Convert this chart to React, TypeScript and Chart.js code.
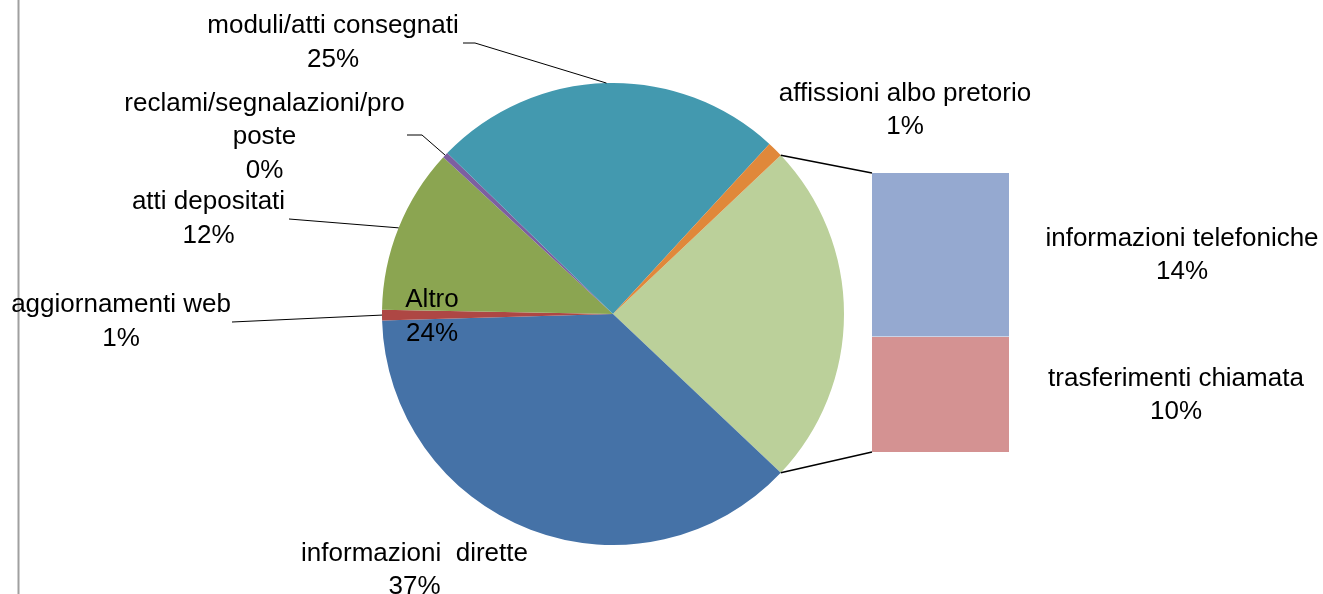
import React, { useEffect, useRef } from 'react';
import { Chart, registerables } from 'chart.js';

Chart.register(...registerables);

// ---- data ----
const MAIN_CATEGORIES = [
  'informazioni  dirette',
  'aggiornamenti web',
  'atti depositati',
  'reclami/segnalazioni/proposte',
  'moduli/atti consegnati',
  'affissioni albo pretorio',
];
const MAIN_VALUES = [37.45, 0.75, 11.55, 0.4, 24.55, 1.1];

const OTHER_LABEL = 'Altro';
const OTHER_CATEGORIES = ['informazioni telefoniche', 'trasferimenti chiamata'];
const OTHER_VALUES = [14.1, 10.0];

// ---- style ----
const PIE_COLORS = ['#BBD09A', '#4572A7', '#AE4744', '#8BA551', '#7D5FA0', '#4399AF', '#E0883A'];
const BAR_COLORS = ['#95A9D0', '#D49292'];
const FONT = '25px "Liberation Sans", Arial, sans-serif';
const TEXT_STRETCH = 1.04;
const LINE_H = 33.7;

// label layout (index matches pie data order: Altro first, then MAIN_CATEGORIES)
const PIE_LABEL_LAYOUT: any[] = [
  { cx: 432, baseline: 307 },
  { cx: 414.5, baseline: 560.5 },
  { cx: 121, baseline: 312, leader: [232, 322], stub: 0 },
  { cx: 208.5, baseline: 209, leader: [289, 219], stub: 0 },
  { cx: 264.5, baseline: 110.5, leader: [407, 135], stub: 15, wrapAt: 24 },
  { cx: 333, baseline: 33, leader: [463, 43], stub: 12 },
  { cx: 905, baseline: 100.5 },
];
const BAR_LABEL_LAYOUT = [
  { cx: 1182, baseline: 245.5 },
  { cx: 1176, baseline: 385.5 },
];

const W = 1323;
const H = 594;

function pct(v: number, total: number) {
  return Math.round((v / total) * 100) + '%';
}

function drawLabel(ctx: CanvasRenderingContext2D, lines: string[], cx: number, baseline: number) {
  ctx.save();
  ctx.font = FONT;
  ctx.fillStyle = '#000';
  ctx.textAlign = 'center';
  ctx.textBaseline = 'alphabetic';
  ctx.translate(cx, 0);
  ctx.scale(TEXT_STRETCH, 1);
  lines.forEach((l, i) => ctx.fillText(l, 0, baseline + i * LINE_H));
  ctx.restore();
}

export default function App() {
  const pieRef = useRef<HTMLCanvasElement>(null);
  const barRef = useRef<HTMLCanvasElement>(null);

  useEffect(() => {
    const otherTotal = OTHER_VALUES.reduce((a, b) => a + b, 0);
    const pieValues = [otherTotal, ...MAIN_VALUES];
    const pieLabels = [OTHER_LABEL, ...MAIN_CATEGORIES];
    const total = pieValues.reduce((a, b) => a + b, 0);
    const rotation = 90 - (otherTotal / total) * 180;

    const pieLabelPlugin = {
      id: 'pieLabels',
      beforeDraw(chart: any) {
        const ctx = chart.ctx;
        ctx.save();
        ctx.strokeStyle = '#A0A0A0';
        ctx.lineWidth = 2;
        ctx.beginPath();
        ctx.moveTo(18.5, 0);
        ctx.lineTo(18.5, H);
        ctx.stroke();
        ctx.restore();
      },
      afterDraw(chart: any) {
        const ctx = chart.ctx;
        const meta = chart.getDatasetMeta(0);
        meta.data.forEach((arc: any, i: number) => {
          const lay = PIE_LABEL_LAYOUT[i];
          const name = pieLabels[i];
          let lines: string[] = lay.wrapAt ? [name.slice(0, lay.wrapAt), name.slice(lay.wrapAt)] : [name];
          lines.push(pct(pieValues[i], total));
          drawLabel(ctx, lines, lay.cx, lay.baseline);
          if (lay.leader) {
            const p = arc.getProps(['x', 'y', 'startAngle', 'endAngle', 'outerRadius'], true);
            const mid = (p.startAngle + p.endAngle) / 2;
            const ex = p.x + p.outerRadius * Math.cos(mid);
            const ey = p.y + p.outerRadius * Math.sin(mid);
            ctx.save();
            ctx.strokeStyle = '#000';
            ctx.lineWidth = 1;
            ctx.beginPath();
            ctx.moveTo(lay.leader[0], lay.leader[1]);
            if (lay.stub) ctx.lineTo(lay.leader[0] + lay.stub, lay.leader[1]);
            ctx.lineTo(ex, ey);
            ctx.stroke();
            ctx.restore();
          }
        });
      },
    };

    const pie = new Chart(pieRef.current!, {
      type: 'pie',
      data: {
        labels: pieLabels,
        datasets: [
          {
            data: pieValues,
            backgroundColor: PIE_COLORS,
            borderWidth: 0,
          },
        ],
      },
      options: {
        responsive: false,
        animation: false,
        rotation,
        layout: { padding: { left: 382, right: W - 844, top: 83, bottom: H - 545 } },
        plugins: { legend: { display: false }, tooltip: { enabled: false } },
      },
      plugins: [pieLabelPlugin],
    });

    const barPlugin = {
      id: 'barExtras',
      afterDraw(chart: any) {
        const ctx = chart.ctx;
        const el = chart.getDatasetMeta(0).data[0];
        const left = el.x - el.width / 2;
        const ys = chart.scales.y;
        const top = ys.getPixelForValue(0);
        const bottom = ys.getPixelForValue(otherTotal);
        const arc = pie.getDatasetMeta(0).data[0] as any;
        const p = arc.getProps(['x', 'y', 'startAngle', 'endAngle', 'outerRadius'], true);
        const sx = p.x + p.outerRadius * Math.cos(p.startAngle);
        const sy = p.y + p.outerRadius * Math.sin(p.startAngle);
        const tx = p.x + p.outerRadius * Math.cos(p.endAngle);
        const ty = p.y + p.outerRadius * Math.sin(p.endAngle);
        ctx.save();
        ctx.strokeStyle = '#000';
        ctx.lineWidth = 1.6;
        ctx.beginPath();
        ctx.moveTo(sx, sy);
        ctx.lineTo(left, top);
        ctx.moveTo(tx, ty);
        ctx.lineTo(left, bottom);
        ctx.stroke();
        ctx.restore();
        OTHER_CATEGORIES.forEach((name, i) => {
          const lay = BAR_LABEL_LAYOUT[i];
          drawLabel(ctx, [name, pct(OTHER_VALUES[i], total)], lay.cx, lay.baseline);
        });
      },
    };

    const bar = new Chart(barRef.current!, {
      type: 'bar',
      data: {
        labels: [OTHER_LABEL],
        datasets: OTHER_CATEGORIES.map((name, i) => ({
          label: name,
          data: [OTHER_VALUES[i]],
          backgroundColor: BAR_COLORS[i],
          borderColor: '#FFFFFF',
          borderWidth: i === 0 ? 0 : { top: 1, left: 0, right: 0, bottom: 0 },
          borderSkipped: false,
          barPercentage: 1,
          categoryPercentage: 1,
        })),
      },
      options: {
        responsive: false,
        animation: false,
        layout: { padding: { left: 872, right: W - 1009, top: 173, bottom: H - 452 } },
        scales: {
          x: { display: false, stacked: true },
          y: { display: false, stacked: true, reverse: true, min: 0, max: otherTotal },
        },
        plugins: { legend: { display: false }, tooltip: { enabled: false } },
      },
      plugins: [barPlugin],
    });

    return () => {
      bar.destroy();
      pie.destroy();
    };
  }, []);

  return (
    <div style={{ position: 'fixed', left: 0, top: 0, width: W, height: H, background: '#fff' }}>
      <canvas ref={pieRef} width={W} height={H} style={{ position: 'absolute', left: 0, top: 0, width: W, height: H }} />
      <canvas ref={barRef} width={W} height={H} style={{ position: 'absolute', left: 0, top: 0, width: W, height: H }} />
    </div>
  );
}
